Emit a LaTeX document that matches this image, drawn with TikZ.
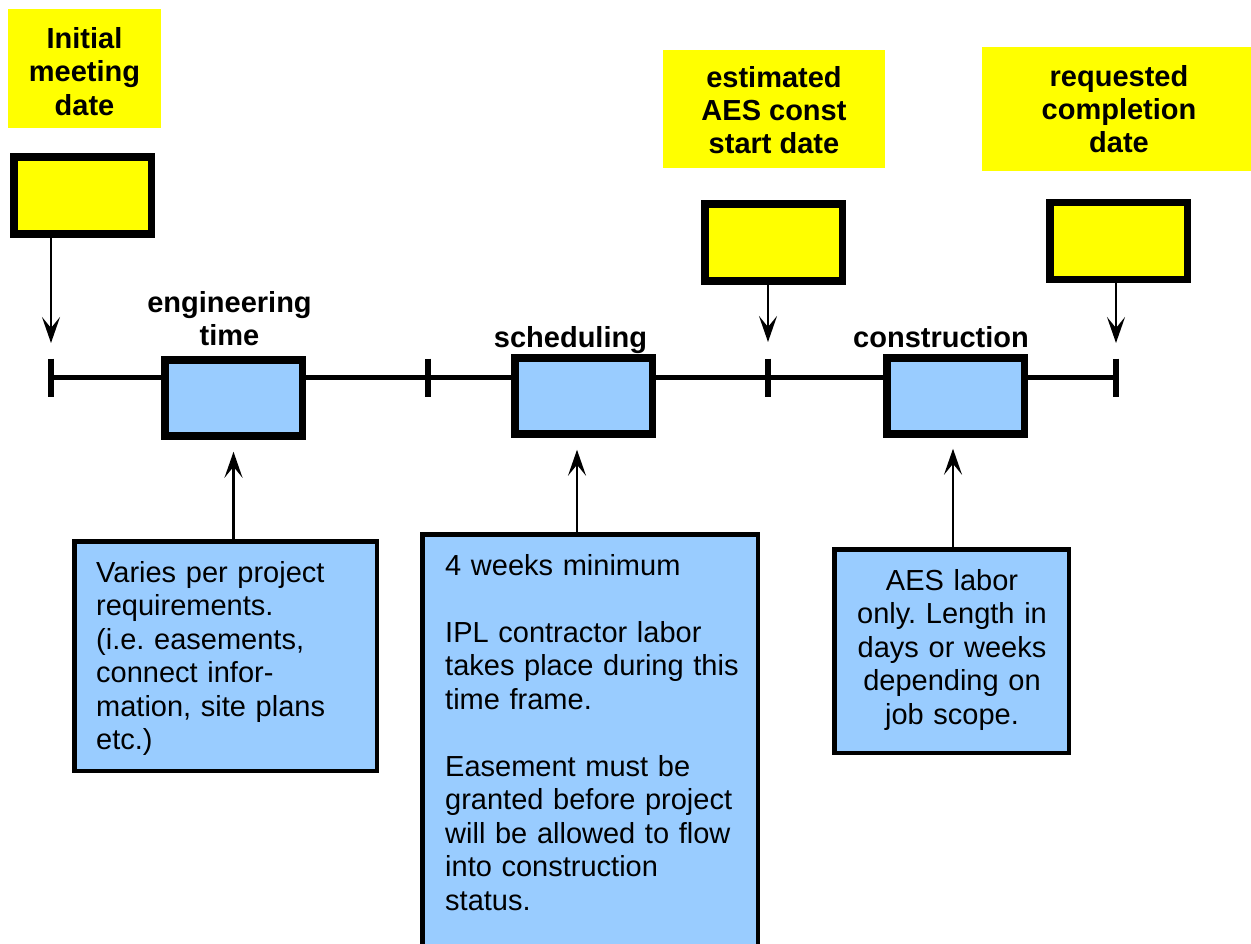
\documentclass[tikz,border=0pt]{standalone}
\usepackage{fontspec}
\setmainfont{Liberation Sans}
\usetikzlibrary{arrows.meta}
\definecolor{ylw}{HTML}{FFFF00}
\definecolor{lblue}{HTML}{99CCFF}
\frenchspacing
\begin{document}
\begin{tikzpicture}[x=1pt,y=-1pt,
  lbl/.style={fill=ylw, inner sep=0pt, align=center, font=\bfseries\fontsize{29}{33.3}\selectfont},
  datebox/.style={draw=black, line width=7.5pt, fill=ylw, inner sep=0pt, minimum width=137.5pt, minimum height=77pt},
  phasebox/.style={draw=black, line width=7.5pt, fill=lblue, inner sep=0pt, minimum width=137.5pt, minimum height=76pt},
  notebox/.style={draw=black, line width=4.5pt, fill=lblue, inner sep=0pt},
  notetext/.style={inner sep=0pt, font=\fontsize{29}{33.5}\selectfont},
  phaselbl/.style={inner sep=0pt, font=\bfseries\fontsize{29}{33.5}\selectfont, text width=240pt, align=center, anchor=base},
  arr/.style={line width=2.5pt, -{Stealth[length=26pt,width=18pt,inset=11pt]}},
  axis/.style={line width=5.5pt},
  tickmark/.style={line width=6pt}
]
\useasboundingbox (0,0) rectangle (1251,943);
\clip (0,0) rectangle (1251,943);

% date labels
\node[lbl, minimum width=153pt, minimum height=119pt] (L1) at (84.5,68.5) {\rule{0pt}{27pt}Initial\\meeting\\date};
\node[lbl, minimum width=222pt, minimum height=118pt] (L2) at (774,109) {\rule{0pt}{23pt}estimated\\AES const\\start date};
\node[lbl, minimum width=274pt, minimum height=124pt] (L3) at (1119,109) {requested\\completion\\date};

% date boxes
\node[datebox] (D1) at (82.5,195.5) {};
\node[datebox] (D2) at (773.5,242.5) {};
\node[datebox] (D3) at (1118.5,241) {};

% timeline
\coordinate (T1) at (51,377.5);
\coordinate (T2) at (428,377.5);
\coordinate (T3) at (768,377.5);
\coordinate (T4) at (1116,377.5);
\draw[axis] (T1) -- (T4);
\foreach \t in {T1,T2,T3,T4} \draw[tickmark] ([yshift=19pt]\t) -- ([yshift=-19pt]\t);

% phase boxes
\node[phasebox] (P1) at (233.5,398) {};
\node[phasebox] (P2) at (583.5,396) {};
\node[phasebox] (P3) at (955.5,396) {};

% phase labels
\node[phaselbl] (N1) at (229.5,312) {engineering\\time};
\node[phaselbl] (N2) at (570.5,347) {scheduling};
\node[phaselbl] (N3) at (941,347) {construction};

% down arrows
\coordinate (A1) at (51,343);
\coordinate (A2) at (768,342);
\coordinate (A3) at (1116,343);
\draw[arr] (D1.south -| A1) -- (A1);
\draw[arr] (D2.south -| A2) -- (A2);
\draw[arr] (D3.south -| A3) -- (A3);

% note boxes
\node[notebox, minimum width=302.5pt, minimum height=229.5pt] (B1) at (225.5,656) {};
\node[notebox, minimum width=335.5pt, minimum height=500pt] (B2) at (590,784.25) {};
\node[notebox, minimum width=234.5pt, minimum height=203.5pt] (B3) at (951.5,651) {};

\node[notetext, text width=280pt, align=left, anchor=base west] (X1) at (96,582)
  {Varies per project\\requirements.\\(i.e. easements,\\connect infor-\\mation, site plans\\etc.)};
\node[notetext, text width=310pt, align=left, anchor=base west] (X2) at (445,575)
  {4 weeks minimum\\[33.5pt]IPL contractor labor\\takes place during this\\time frame.\\[33.5pt]Easement must be\\granted before project\\will be allowed to flow\\into construction\\status.};
\node[notetext, text width=230pt, align=center, anchor=base] (X3) at (952,590)
  {AES labor\\only. Length in\\days or weeks\\depending on\\job scope.};

% up arrows
\draw[arr] (B1.north -| P1.south) -- ([yshift=-12pt]P1.south);
\draw[arr] ([xshift=-6.5pt]P2.south |- B2.north) -- ([xshift=-6.5pt,yshift=-12pt]P2.south);
\draw[arr] ([xshift=-2.5pt]P3.south |- B3.north) -- ([xshift=-2.5pt,yshift=-11pt]P3.south);
\end{tikzpicture}
\end{document}
